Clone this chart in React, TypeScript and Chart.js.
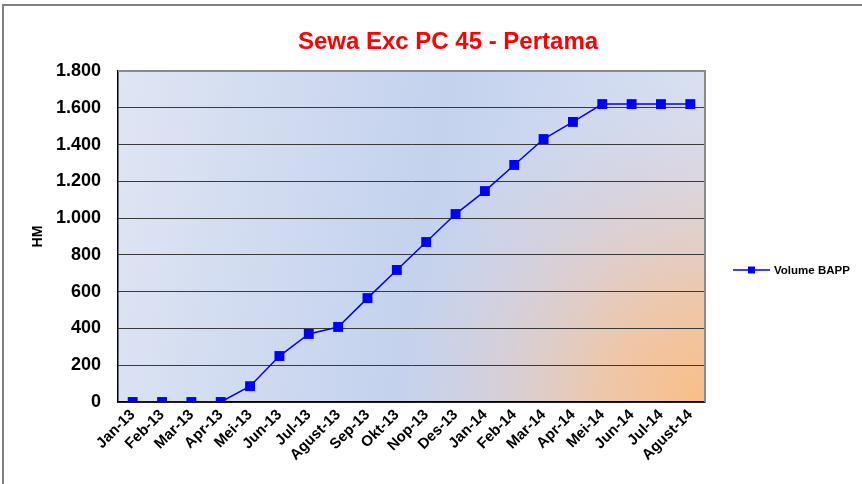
import React, { useEffect, useRef } from "react";
import { Chart, registerables } from "chart.js";

Chart.register(...registerables);

const categories = [
  "Jan-13", "Feb-13", "Mar-13", "Apr-13", "Mei-13", "Jun-13", "Jul-13", "Agust-13",
  "Sep-13", "Okt-13", "Nop-13", "Des-13", "Jan-14", "Feb-14", "Mar-14", "Apr-14",
  "Mei-14", "Jun-14", "Jul-14", "Agust-14",
];
const volumeBAPP = [
  0, 0, 0, 0, 86, 250, 370, 408, 565, 718, 870, 1022, 1147, 1289, 1430, 1523,
  1620, 1620, 1620, 1620,
];
const seriesLabel = "Volume BAPP";
const chartTitle = "Sewa Exc PC 45 - Pertama";
const yAxisTitle = "HM";
const yMin = 0;
const yMax = 1800;
const yStep = 200;

const FONT = "'Liberation Sans', Arial, sans-serif";

const fmt = (v: number) => String(v).replace(/\B(?=(\d{3})+(?!\d))/g, ".");

const decorPlugin = {
  id: "decor",
  beforeDraw(chart: any) {
    const { ctx, chartArea: a } = chart;
    ctx.save();
    const w = a.right - a.left;
    const h = a.bottom - a.top;
    const lin = ctx.createLinearGradient(a.left, a.top, a.right, a.top + h * 0.3);
    lin.addColorStop(0, "#dfe5f3");
    lin.addColorStop(0.55, "#c4d2ee");
    lin.addColorStop(1, "#dbe2f2");
    ctx.fillStyle = lin;
    ctx.fillRect(a.left, a.top, w, h);
    const rad = ctx.createRadialGradient(a.right, a.bottom, 0, a.right, a.bottom, w * 0.58);
    rad.addColorStop(0, "rgba(250,190,135,1)");
    rad.addColorStop(0.3, "rgba(240,196,162,0.9)");
    rad.addColorStop(0.7, "rgba(218,200,204,0.4)");
    rad.addColorStop(1, "rgba(198,211,238,0)");
    ctx.fillStyle = rad;
    ctx.fillRect(a.left, a.top, w, h);
    ctx.restore();
  },
  afterDraw(chart: any) {
    const { ctx, chartArea: a } = chart;
    ctx.save();
    // plot border top/right gray
    ctx.strokeStyle = "#8a8a8a";
    ctx.lineWidth = 2;
    ctx.beginPath();
    ctx.moveTo(a.left, a.top);
    ctx.lineTo(a.right, a.top);
    ctx.lineTo(a.right, a.bottom);
    ctx.stroke();
    // outer frame
    ctx.strokeStyle = "#808080";
    ctx.lineWidth = 2;
    ctx.beginPath();
    ctx.moveTo(3, 484);
    ctx.lineTo(3, 5);
    ctx.lineTo(862, 5);
    ctx.stroke();
    // title
    ctx.fillStyle = "#ff0000";
    ctx.font = `bold 24px ${FONT}`;
    ctx.textAlign = "center";
    ctx.textBaseline = "middle";
    ctx.fillText(chartTitle, 448, 42);
    // legend
    const ds = chart.data.datasets[0];
    const ly = 270;
    const lx = 733;
    ctx.strokeStyle = ds.borderColor;
    ctx.lineWidth = 1.5;
    ctx.beginPath();
    ctx.moveTo(lx, ly);
    ctx.lineTo(lx + 37, ly);
    ctx.stroke();
    ctx.fillStyle = ds.backgroundColor;
    ctx.fillRect(lx + 15, ly - 3.5, 7, 7);
    ctx.fillStyle = "#000";
    ctx.font = `bold 11.5px ${FONT}`;
    ctx.textBaseline = "middle";
    ctx.textAlign = "left";
    ctx.fillText(ds.label, lx + 41, ly + 1);
    ctx.restore();
  },
};

export default function App() {
  const ref = useRef<HTMLCanvasElement | null>(null);
  useEffect(() => {
    document.body.style.margin = "0";
    const chart = new Chart(ref.current as HTMLCanvasElement, {
      type: "line",
      data: {
        labels: categories,
        datasets: [
          {
            label: seriesLabel,
            data: volumeBAPP,
            borderColor: "#0000ff",
            backgroundColor: "#0000ff",
            borderWidth: 1.5,
            pointStyle: "rect",
            pointRadius: 7,
            pointBorderWidth: 0,
            tension: 0,
          },
        ],
      },
      options: {
        animation: false,
        responsive: false,
        layout: { padding: { left: 0, right: 157, top: 71, bottom: 0 } },
        plugins: {
          legend: { display: false },
          tooltip: { enabled: false },
          title: { display: false },
        },
        scales: {
          x: {
            offset: true,
            grid: { display: false, drawTicks: false },
            border: { display: true, color: "#000", width: 1.5 },
            ticks: {
              color: "#000",
              font: { family: FONT, size: 15, weight: "bold" },
              maxRotation: 45,
              minRotation: 45,
              autoSkip: false,
              padding: 4,
            },
            afterFit: (s: any) => {
              s.height = 82;
            },
          },
          y: {
            min: yMin,
            max: yMax,
            grid: { color: "#3a3a3a", lineWidth: 1, drawTicks: false },
            border: { display: true, color: "#000", width: 1.5 },
            ticks: {
              stepSize: yStep,
              color: "#000",
              font: { family: FONT, size: 18, weight: "bold" },
              padding: 17,
              callback: (v: any) => fmt(Number(v)),
            },
            title: {
              display: true,
              text: yAxisTitle,
              color: "#000",
              font: { family: FONT, size: 14, weight: "bold" },
              padding: { top: 30, bottom: 0 },
            },
            afterFit: (s: any) => {
              s.width = 118;
            },
          },
        },
      },
      plugins: [decorPlugin],
    });
    return () => chart.destroy();
  }, []);
  return (
    <div style={{ width: 862, height: 484 }}>
      <canvas ref={ref} width={862} height={484} style={{ display: "block" }} />
    </div>
  );
}
